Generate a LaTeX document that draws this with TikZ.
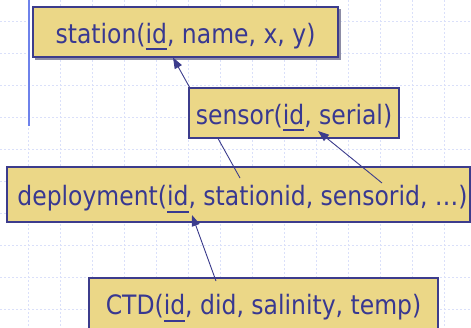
\documentclass[tikz,border=0pt]{standalone}
\usepackage{fontspec}
\setmainfont{DejaVu Sans}[FakeStretch=0.88]
\usetikzlibrary{arrows.meta}

\definecolor{boxfill}{RGB}{235,215,135}
\definecolor{ink}{RGB}{56,56,145}
\definecolor{edge}{RGB}{60,60,140}
\definecolor{gridc}{RGB}{218,224,250}
\definecolor{marginc}{RGB}{110,130,235}
\definecolor{shadowc}{RGB}{140,140,165}

% primary key: underlined attribute
\newcommand\pkey[1]{\setbox0\hbox{#1}\rlap{\rule[-7.2pt]{\wd0}{2.2pt}}\box0}

\tikzset{
  gridline/.style={gridc, line width=1pt, dash pattern=on 2pt off 2pt},
  relation/.style={draw=edge, fill=boxfill, line width=1.3pt, inner sep=0pt,
    text=ink, font=\fontsize{26.7}{30}\selectfont,
    text height=22pt, text depth=0pt},
  fk/.style={draw=edge, line width=0.9pt,
    -{Triangle[length=11pt,width=8pt]}},
}

\begin{document}
\begin{tikzpicture}[x=1pt,y=-1pt]
  \useasboundingbox (0,0) rectangle (471,327);

  % ruled background
  \foreach \gx in {0,...,13}
    \draw[gridline] (28.8+32*\gx,0) -- (28.8+32*\gx,327);
  \foreach \gy in {0,...,9}
    \draw[gridline] (0,21+32*\gy) -- (471,21+32*\gy);
  \draw[marginc, line width=1.4pt] (28.8,0) -- (28.8,126);

  % relations
  \fill[shadowc] (35,9) rectangle (340.5,59.5);
  \node[relation, minimum width=305pt, minimum height=50pt]
    (station) at (185.5,32) {station(\pkey{id}, name, x, y)};
  \node[relation, minimum width=463pt, minimum height=55pt]
    (deploy) at (238.5,194.5) {\hspace*{8pt}deployment(\pkey{id}, stationid, sensorid, \dots)};
  \node[relation, minimum width=349pt, minimum height=51pt]
    (ctd) at (263.5,303.5) {CTD(\pkey{id}, did, salinity, temp)};

  % foreign key end points
  \coordinate (stationid) at (240,178);
  \coordinate (stationref) at (173,57.5);
  \coordinate (sensorid) at (382,183);
  \coordinate (sensorref) at (318,131);
  \coordinate (did) at (216,281);
  \coordinate (deployref) at (192,215);

  \draw[fk] (stationid) -- (stationref);

  \node[relation, minimum width=210pt, minimum height=50pt]
    (sensor) at (294,113) {sensor(\pkey{id}, serial)};

  \draw[fk] (sensorid) -- (sensorref);
  \draw[fk] (did) -- (deployref);
\end{tikzpicture}
\end{document}
